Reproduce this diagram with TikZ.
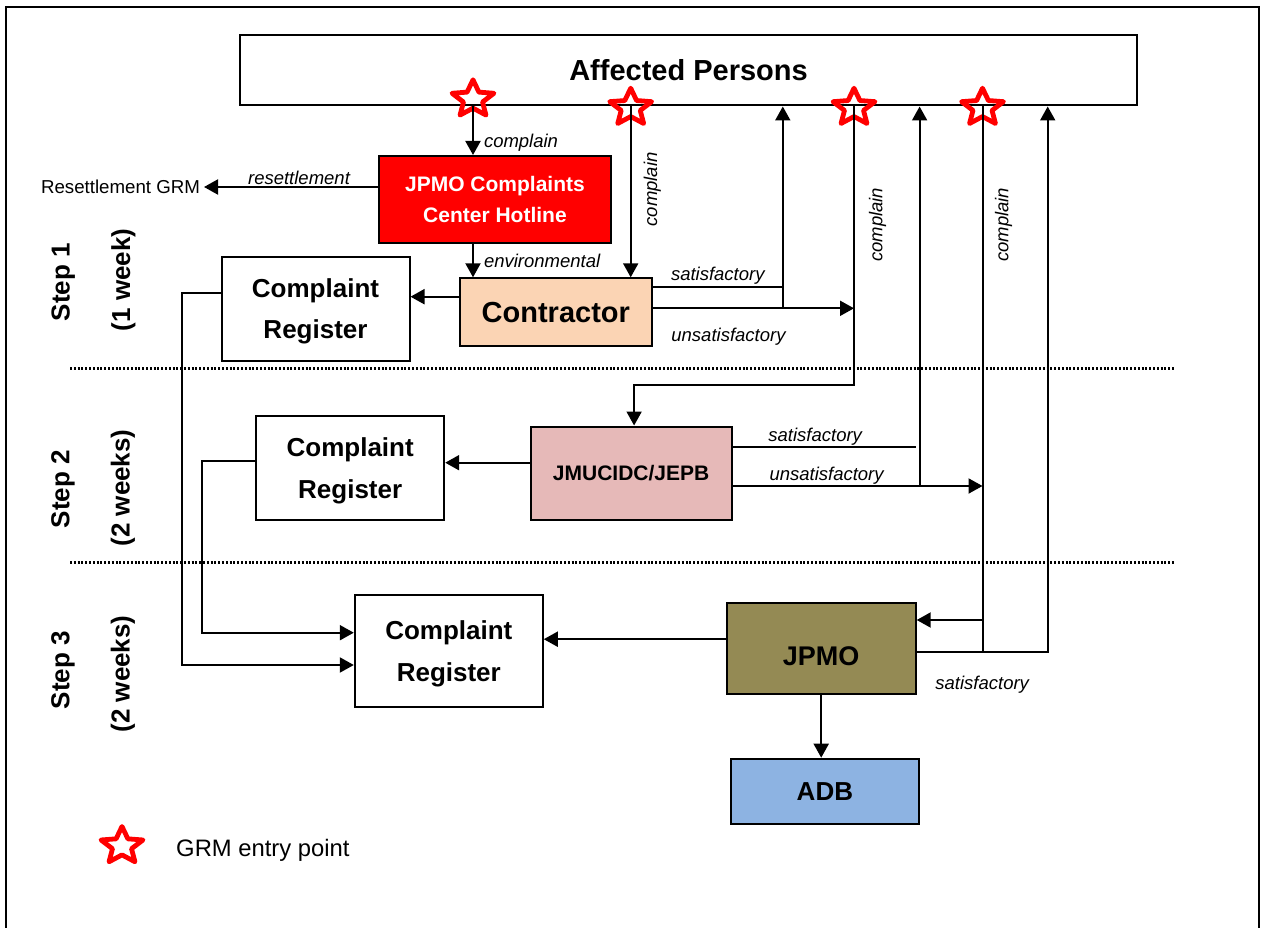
\documentclass[tikz,border=0pt]{standalone}
\usepackage{fontspec}
\setmainfont{Liberation Sans}
\usepackage{xcolor}
\usetikzlibrary{positioning,arrows.meta,calc,shapes.geometric}
\definecolor{contrfill}{HTML}{FBD4B4}
\definecolor{jmfill}{HTML}{E6B9B8}
\definecolor{jpmofill}{HTML}{948A54}
\definecolor{adbfill}{HTML}{8DB3E2}

\begin{document}
\begin{tikzpicture}[x=1pt, y=-1pt,
		line width=2pt,
		box/.style={draw, line width=2pt, align=center, inner sep=0pt,
				font=\fontsize{26}{41.5}\selectfont\bfseries},
		reg/.style={box, minimum width=188pt, minimum height=104pt, text depth=0pt},
		lbl/.style={font=\fontsize{18.5}{22}\selectfont\itshape, inner sep=1pt},
		steplbl/.style={rotate=90, font=\fontsize{26}{30}\selectfont\bfseries},
		entry/.style={star, star points=5, star point ratio=2.2, draw=red,
				line width=4.8pt, line join=round, minimum size=39pt, inner sep=0pt,
				xscale=1.13, transform shape},
		arr/.style={-{Triangle[length=14pt,width=15pt]}},
		sep/.style={line width=2.6pt, dash pattern=on 2pt off 1.8pt}
		]
		\useasboundingbox (0,0) rectangle (1266,928);
		\draw[line width=2pt] (6,940) -- (6,7) -- (1259,7) -- (1259,940);

		\node[box, minimum width=897pt, minimum height=70pt,
			font=\fontsize{29}{35}\selectfont\bfseries] (ap) at (688.5,70.5) {Affected Persons};
		\node[entry] (s1) at (473,99.3) {};
		\node[entry] (s2) at (630.7,107.7) {};
		\node[entry] (s3) at (854,107.7) {};
		\node[entry] (s4) at (982.5,107.7) {};

		\node[box, fill=red, text=white, minimum width=232pt, minimum height=87pt,
			font=\fontsize{21}{31.7}\selectfont\bfseries] (hot) at (495,199.5)
		{JPMO Complaints\\Center Hotline};
		\node[font=\fontsize{18.7}{22}\selectfont, anchor=east, inner sep=3pt] (rgrm)
		at (204,187) {Resettlement GRM};
		\node[box, fill=contrfill, minimum width=192pt, minimum height=68pt,
			font=\fontsize{29}{35}\selectfont\bfseries] (con) at (555.8,312.3) {Contractor};
		\node[reg] (cr1) at (315.5,308.5) {Complaint\\Register};

		\node[box, fill=jmfill, minimum width=201pt, minimum height=93pt,
			font=\fontsize{21}{25}\selectfont\bfseries] (jm) at (631.1,473) {JMUCIDC/JEPB};
		\node[reg] (cr2) at (350.2,468) {Complaint\\Register};

		\node[reg, minimum height=112pt] (cr3) at (448.8,651.2) {Complaint\\Register};
		\node[box, fill=jpmofill, minimum width=189pt, minimum height=91pt,
			text height=35pt, text depth=0pt,
			font=\fontsize{27}{32}\selectfont\bfseries] (jpmo) at (821.2,648.2) {JPMO};
		\node[box, fill=adbfill, minimum width=188pt, minimum height=65pt,
			below=63pt of jpmo, xshift=3.7pt] (adb) {ADB};

		\node[steplbl] (st1) at (63.3,282) {Step 1};
		\node[steplbl] (wk1) at (123.3,280) {(1 week)};
		\node[steplbl] (st2) at (63,489) {Step 2};
		\node[steplbl] (wk2) at (123,488) {(2 weeks)};
		\node[steplbl] (st3) at (63,670) {Step 3};
		\node[steplbl] (wk3) at (123,674) {(2 weeks)};
		\draw[sep] (70,368.3) -- (1174,368.3);
		\draw[sep] (70,562.3) -- (1174,562.3);

		\node[entry] (key) at (122,846) {};
		\node[font=\fontsize{23.8}{28}\selectfont, inner sep=0pt, right=36pt of key,
			yshift=-4pt] (keytxt) {GRM entry point};

		\coordinate (cs) at ([yshift=25.6pt]con.east);
		\coordinate (cu) at ([yshift=4pt]con.east);
		\coordinate (cv) at ([xshift=130pt]cu);
		\coordinate (cl) at ([yshift=15.6pt]con.west);
		\coordinate (r1) at ([yshift=15.2pt]cr1.west);
		\coordinate (r2) at ([yshift=6.7pt]cr2.west);
		\coordinate (r3a) at ([yshift=18.5pt]cr3.west);
		\coordinate (r3b) at ([yshift=-13.8pt]cr3.west);
		\coordinate (js) at ([yshift=26pt]jm.east);
		\coordinate (ju) at ([yshift=-13pt]jm.east);
		\coordinate (jv) at ([xshift=187pt]ju);
		\coordinate (jl) at ([yshift=10.3pt]jm.west);
		\coordinate (pin) at ([yshift=28.2pt]jpmo.east);
		\coordinate (psat) at ([yshift=-3.5pt]jpmo.east);
		\coordinate (pl) at ([yshift=9pt]jpmo.west);

		\draw[arr] (s1 |- ap.south) -- (s1 |- hot.north)
		node[lbl, pos=0.74, anchor=west, xshift=9pt] {complain};
		\draw[arr] (rgrm.east -| hot.west) -- (rgrm.east)
		node[lbl, midway, above, xshift=8pt] {resettlement};
		\draw[arr] (s1 |- hot.south) -- (s1 |- con.north)
		node[lbl, midway, anchor=west, xshift=9pt] {environmental};
		\draw[arr] (s2 |- ap.south) -- (s2 |- con.north)
		node[lbl, pos=0.485, anchor=north, xshift=11pt, rotate=90] {complain};
		\draw[arr] (cl) -- (cl -| cr1.east);
		\draw[arr] (r1) -- ++(-38.3,0) |- (r3b);
		\draw (cs) -- (cs -| cv) node[lbl, midway, above] {satisfactory};
		\draw[arr] (cv) -- (cv |- ap.south);
		\draw[arr] (cu) -- (cu -| s3)
		node[lbl, pos=0.376, below=18pt] {unsatisfactory};
		\draw[arr] (s3 |- ap.south) -- ++(0,278.3)
		node[lbl, pos=0.425, anchor=north, xshift=13pt, rotate=90] {complain}
		-| ([xshift=3pt]jm.north);

		\draw[arr] (jl) -- (jl -| cr2.east);
		\draw[arr] (r2) -- ++(-53.6,0) |- (r3a);
		\draw (js) -- ++(183.5,0) node[lbl, pos=0.45, above] {satisfactory};
		\draw[arr] (jv) -- (jv |- ap.south);
		\draw[arr] (ju) -- (ju -| s4)
		node[lbl, pos=0.376, above] {unsatisfactory};
		\draw (s4 |- ap.south) -- (s4 |- psat)
		node[lbl, pos=0.217, anchor=north, xshift=10.5pt, rotate=90] {complain};
		\draw[arr] (s4 |- pin) -- (pin);

		\draw[arr] (pl) -- (pl -| cr3.east);
		\draw[arr] (psat) -- ++(131,0) coordinate (pv)
		node[lbl, midway, below=22pt] {satisfactory}
		-- (pv |- ap.south);
		\draw[arr] (jpmo.south) -- (jpmo.south |- adb.north);
	\end{tikzpicture}
\end{document}
